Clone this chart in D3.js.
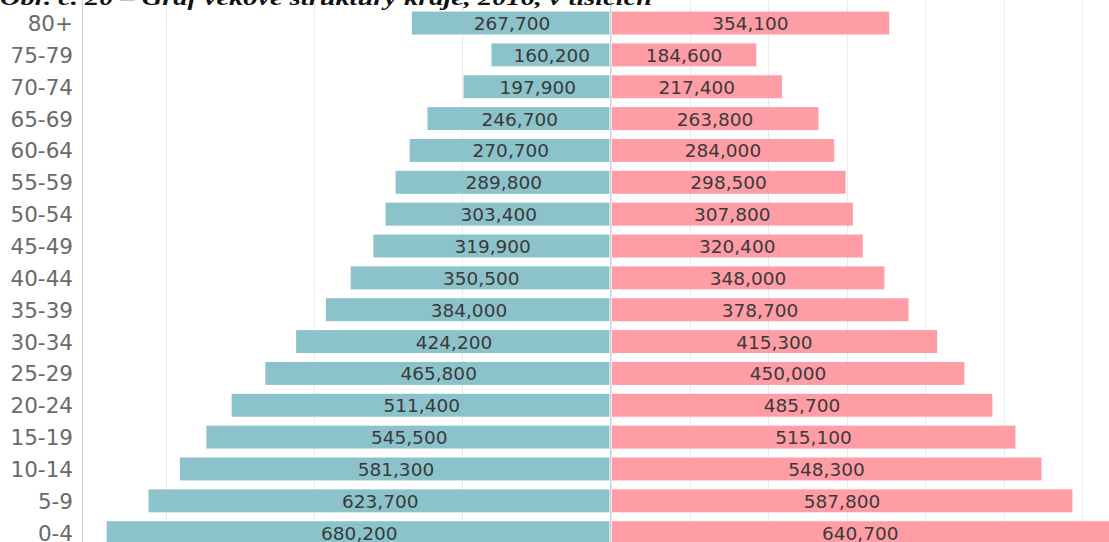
<!DOCTYPE html>
<html>
<head>
<meta charset="utf-8">
<script src="https://cdn.jsdelivr.net/npm/d3@7"></script>
<style>
  html, body { margin: 0; padding: 0; background: #fff; overflow: hidden; }
  svg { display: block; }
</style>
</head>
<body>
<div id="chart"></div>
<script>

// data

const ageGroups = ["80+", "75-79", "70-74", "65-69", "60-64", "55-59", "50-54", "45-49",
  "40-44", "35-39", "30-34", "25-29", "20-24", "15-19", "10-14", "5-9", "0-4"];

const leftValues = [267700, 160200, 197900, 246700, 270700, 289800, 303400, 319900,
  350500, 384000, 424200, 465800, 511400, 545500, 581300, 623700, 680200];

const rightValues = [354100, 184600, 217400, 263800, 284000, 298500, 307800, 320400,
  348000, 378700, 415300, 450000, 485700, 515100, 548300, 587800, 640700];

const leftTicks = [0, 200000, 400000, 600000];
const rightTicks = [0, 100000, 200000, 300000, 400000, 500000, 600000];

const title = "Obr. č. 20 – Graf věkové struktury kraje, 2016, v tisících";

const rows = ageGroups.map((a, i) => ({ age: a, left: leftValues[i], right: rightValues[i] }));

const width = 1109, height = 542;

const svg = d3.select("#chart").append("svg")
  .attr("width", width)
  .attr("height", height);

// **** scales *****************
// each side is scaled to its own max (like the two panes in the original)
const xL = d3.scaleLinear().domain([0, d3.max(leftValues)]).range([610, 106.7]);
const xR = d3.scaleLinear().domain([0, d3.max(rightValues)]).range([611.6, 1113.9]);

const y = d3.scaleBand()
  .domain(ageGroups)
  .range([7.1, 548.6])
  .paddingInner(0.28)
  .paddingOuter(0.14);

// **** grid *****************
const grid = svg.append("g")
  .attr("stroke", "#ebebeb")
  .attr("stroke-width", 1);

grid.selectAll(".gl")
  .data(leftTicks.filter(d => d > 0))
  .join("line")
  .attr("x1", d => Math.round(xL(d)) + 0.5)
  .attr("x2", d => Math.round(xL(d)) + 0.5)
  .attr("y1", 0).attr("y2", height);

grid.selectAll(".gr")
  .data(rightTicks.filter(d => d > 0))
  .join("line")
  .attr("x1", d => Math.round(xR(d)) + 0.5)
  .attr("x2", d => Math.round(xR(d)) + 0.5)
  .attr("y1", 0).attr("y2", height);

// y axis line
svg.append("line")
  .attr("x1", 82.5).attr("x2", 82.5)
  .attr("y1", 0).attr("y2", height)
  .attr("stroke", "#cfcfcf");

// **** bars *****************
svg.append("g").selectAll("rect")
  .data(rows)
  .join("rect")
  .attr("x", d => xL(d.left))
  .attr("y", d => y(d.age))
  .attr("width", d => xL(0) - 0.5 - xL(d.left))
  .attr("height", y.bandwidth())
  .attr("fill", "#8cc2ca");

svg.append("g").selectAll("rect")
  .data(rows)
  .join("rect")
  .attr("x", xR(0) + 0.4)
  .attr("y", d => y(d.age))
  .attr("width", d => xR(d.right) - xR(0) - 0.4)
  .attr("height", y.bandwidth())
  .attr("fill", "#ff9da7");

// zero line between the two sides
svg.append("line")
  .attr("x1", 610.8).attr("x2", 610.8)
  .attr("y1", 0).attr("y2", height)
  .attr("stroke", "#d2d2d2")
  .attr("stroke-width", 1.5);

// **** labels *****************
const fmt = d3.format(",");
const mid = d => y(d.age) + y.bandwidth() / 2;

const labels = svg.append("g")
  .attr("font-family", "'DejaVu Sans', sans-serif")
  .attr("font-size", 18.5)
  .attr("fill", "#3a3a3a")
  .attr("text-anchor", "middle");

labels.selectAll(".ll")
  .data(rows)
  .join("text")
  .attr("x", d => (xL(d.left) + xL(0)) / 2 + 1)
  .attr("y", d => mid(d) + 7)
  .text(d => fmt(d.left));

labels.selectAll(".lr")
  .data(rows)
  .join("text")
  .attr("x", d => (xR(0) + Math.min(xR(d.right), width)) / 2)
  .attr("y", d => mid(d) + 7)
  .text(d => fmt(d.right));

svg.append("g")
  .attr("font-family", "'DejaVu Sans', sans-serif")
  .attr("font-size", 21.5)
  .attr("fill", "#6a6a6a")
  .attr("text-anchor", "end")
  .selectAll("text")
  .data(ageGroups)
  .join("text")
  .attr("x", 73)
  .attr("y", d => y(d) + y.bandwidth() / 2 + 8)
  .text(d => d);

// title, cut off at the top edge like in the original
svg.append("text")
  .attr("x", 0)
  .attr("y", 5)
  .attr("font-family", "'Liberation Serif', serif")
  .attr("font-weight", "bold")
  .attr("font-style", "italic")
  .attr("font-size", 22)
  .attr("fill", "#111")
  .attr("textLength", 652)
  .attr("lengthAdjust", "spacingAndGlyphs")
  .text(title);

</script>
</body>
</html>
